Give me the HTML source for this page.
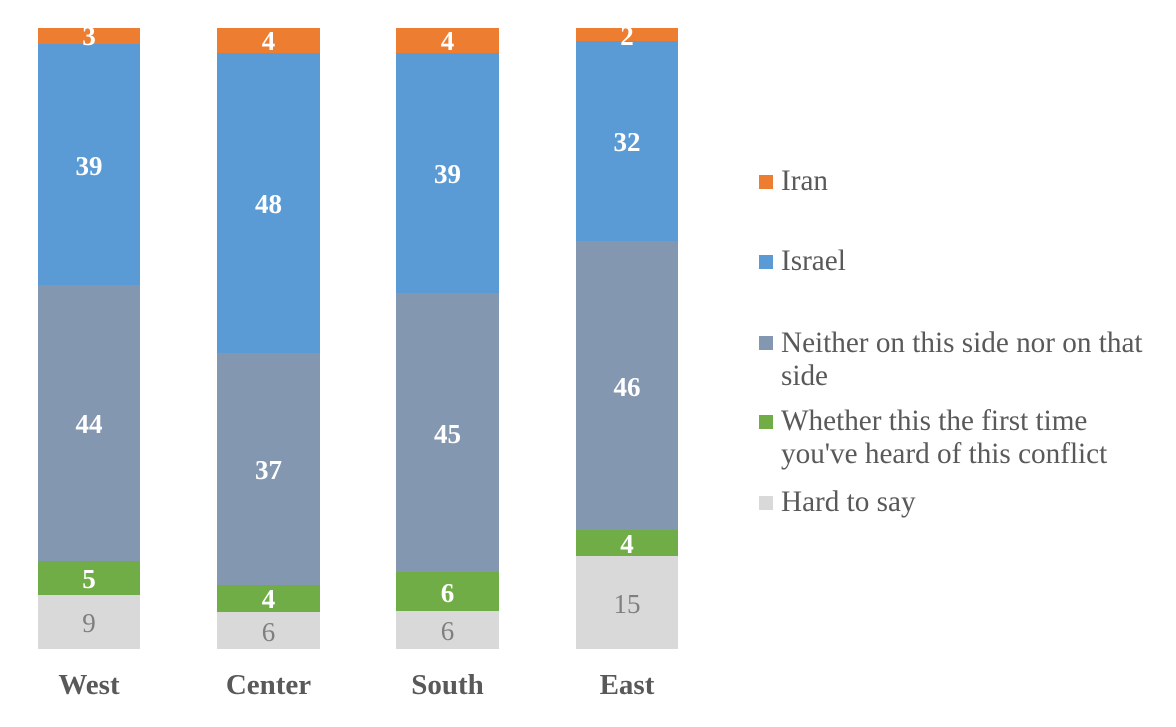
<!DOCTYPE html>
<html>
<head>
<meta charset="utf-8">
<style>
html,body{margin:0;padding:0;background:#fff;}
svg{display:block;}
text{font-family:"Liberation Serif","Times New Roman",serif;}
.dl{font-size:27px;font-weight:bold;fill:#fff;text-anchor:middle;}
.dg{font-size:27px;fill:#7f7f7f;text-anchor:middle;}
.cat{font-size:29px;font-weight:bold;fill:#595959;text-anchor:middle;}
.lg{font-size:29.2px;fill:#595959;}
</style>
</head>
<body>
<svg width="1176" height="727" viewBox="0 0 1176 727" xmlns="http://www.w3.org/2000/svg">
<!-- West -->
<rect x="38" y="28" width="102" height="16" fill="#ED7D31"/>
<rect x="38" y="44" width="102" height="241" fill="#5B9BD5"/>
<rect x="38" y="285" width="102" height="276" fill="#8497B0"/>
<rect x="38" y="561" width="102" height="34" fill="#70AD47"/>
<rect x="38" y="595" width="102" height="54" fill="#D9D9D9"/>
<text class="dl" x="89" y="45">3</text>
<text class="dl" x="89" y="175">39</text>
<text class="dl" x="89" y="433">44</text>
<text class="dl" x="89" y="588">5</text>
<text class="dg" x="89" y="632">9</text>
<!-- Center -->
<rect x="217" y="28" width="103" height="25" fill="#ED7D31"/>
<rect x="217" y="53" width="103" height="300" fill="#5B9BD5"/>
<rect x="217" y="353" width="103" height="232" fill="#8497B0"/>
<rect x="217" y="585" width="103" height="27" fill="#70AD47"/>
<rect x="217" y="612" width="103" height="37" fill="#D9D9D9"/>
<text class="dl" x="268.5" y="50">4</text>
<text class="dl" x="268.5" y="213">48</text>
<text class="dl" x="268.5" y="479">37</text>
<text class="dl" x="268.5" y="608">4</text>
<text class="dg" x="268.5" y="641">6</text>
<!-- South -->
<rect x="396" y="28" width="103" height="25" fill="#ED7D31"/>
<rect x="396" y="53" width="103" height="240" fill="#5B9BD5"/>
<rect x="396" y="293" width="103" height="279" fill="#8497B0"/>
<rect x="396" y="572" width="103" height="39" fill="#70AD47"/>
<rect x="396" y="611" width="103" height="38" fill="#D9D9D9"/>
<text class="dl" x="447.5" y="50">4</text>
<text class="dl" x="447.5" y="183">39</text>
<text class="dl" x="447.5" y="443">45</text>
<text class="dl" x="447.5" y="602">6</text>
<text class="dg" x="447.5" y="640">6</text>
<!-- East -->
<rect x="576" y="28" width="102" height="13" fill="#ED7D31"/>
<rect x="576" y="41" width="102" height="200" fill="#5B9BD5"/>
<rect x="576" y="241" width="102" height="289" fill="#8497B0"/>
<rect x="576" y="530" width="102" height="26" fill="#70AD47"/>
<rect x="576" y="556" width="102" height="93" fill="#D9D9D9"/>
<text class="dl" x="627" y="45">2</text>
<text class="dl" x="627" y="151">32</text>
<text class="dl" x="627" y="396">46</text>
<text class="dl" x="627" y="553">4</text>
<text class="dg" x="627" y="613">15</text>
<!-- Categories -->
<text class="cat" x="89" y="694">West</text>
<text class="cat" x="268.5" y="694">Center</text>
<text class="cat" x="447.5" y="694">South</text>
<text class="cat" x="627" y="694">East</text>
<!-- Legend -->
<rect x="759" y="175" width="14" height="14" fill="#ED7D31"/>
<text class="lg" x="781" y="190">Iran</text>
<rect x="759" y="255" width="14" height="14" fill="#5B9BD5"/>
<text class="lg" x="781" y="270">Israel</text>
<rect x="759" y="336" width="14" height="14" fill="#8497B0"/>
<text class="lg" x="781" y="352">Neither on this side nor on that</text>
<text class="lg" x="781" y="385">side</text>
<rect x="759" y="415" width="14" height="14" fill="#70AD47"/>
<text class="lg" x="781" y="430">Whether this the first time</text>
<text class="lg" x="781" y="463">you've heard of this conflict</text>
<rect x="759" y="496" width="14" height="14" fill="#D9D9D9"/>
<text class="lg" x="781" y="511">Hard to say</text>
</svg>
</body>
</html>
